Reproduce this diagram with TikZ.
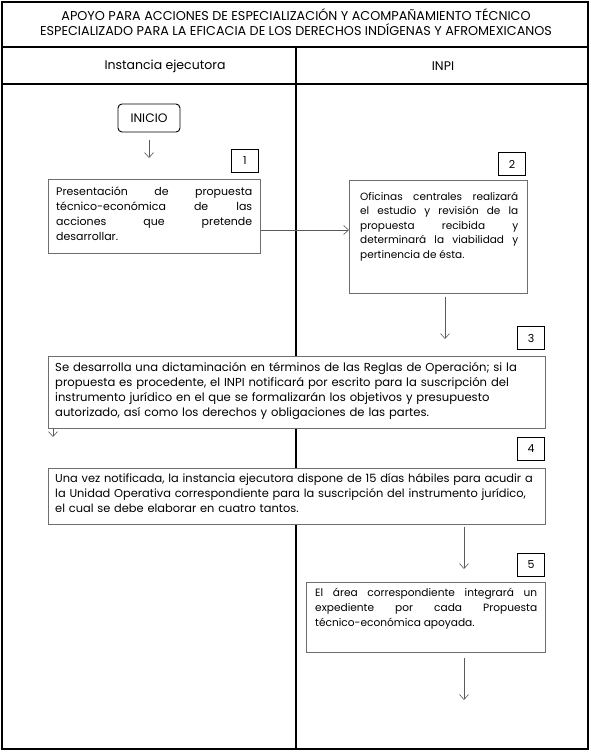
\documentclass[tikz,border=0pt]{standalone}
\usepackage{fontspec}
\setmainfont{Poppins}
\usetikzlibrary{arrows.meta}
\definecolor{boxgray}{RGB}{110,110,110}
\definecolor{arrgray}{RGB}{90,90,90}
\tikzset{
  frame/.style={draw=black, line width=1.1pt},
  procbox/.style={draw=boxgray, fill=white, line width=0.7pt, minimum width=#1, inner sep=0pt, anchor=north west},
  numbox/.style={draw=black, fill=white, line width=0.9pt, minimum width=27pt, minimum height=23pt, inner sep=0pt, font=\fontsize{11}{13}\selectfont},
  txt/.style={inner sep=0pt, anchor=north west},
  flow/.style={draw=arrgray, line width=0.6pt, -{Straight Barb[length=5pt,width=9pt]}},
  startbox/.style={draw=black, line width=0.9pt, rounded corners=4pt, minimum width=62pt, minimum height=28pt, inner sep=0pt, font=\fontsize{12.3}{14}\selectfont},
}
\begin{document}
\begin{tikzpicture}[x=1pt,y=-1pt]
\useasboundingbox (0,0) rectangle (591,752);
% frame
\draw[frame] (2,2) rectangle (588,749);
\draw[frame] (2,47) -- (588,47);
\draw[frame] (2,84) -- (588,84);
\draw[frame] (296,47) -- (296,749);
% titles
\node[inner sep=0pt, font=\fontsize{12.8}{15}\selectfont, align=center] (title) at (296,22)
  {APOYO PARA ACCIONES DE ESPECIALIZACIÓN Y ACOMPAÑAMIENTO TÉCNICO\\ESPECIALIZADO PARA LA EFICACIA DE LOS DERECHOS INDÍGENAS Y AFROMEXICANOS};
\node[inner sep=0pt, font=\fontsize{12.5}{15}\selectfont] (h1) at (165,66) {Instancia ejecutora};
\node[inner sep=0pt, font=\fontsize{12.5}{15}\selectfont] (h2) at (443,66) {INPI};
% start
\node[startbox] (ini) at (149,118) {INICIO};
% boxes
\node[procbox=212pt, minimum height=74pt] (b1) at (48,179) {};
\node[txt, text width=196pt, align=justify, font=\fontsize{11}{15}\selectfont] (t1) at ([xshift=8pt,yshift=-8pt]b1.north west)
  {Presentación de propuesta\linebreak técnico-económica de las\linebreak acciones que pretende\linebreak desarrollar.};
\node[numbox] (n1) at (245,161) {1};

\node[procbox=178pt, minimum height=113pt] (b2) at (349,180) {};
\node[txt, text width=158pt, align=justify, font=\fontsize{10.5}{14.5}\selectfont] (t2) at ([xshift=11pt,yshift=-12pt]b2.north west)
  {Oficinas centrales realizará\linebreak el estudio y revisión de la\linebreak propuesta recibida y\linebreak determinará la viabilidad y\linebreak pertinencia de ésta.};
\node[numbox] (n2) at (512,164) {2};

\node[procbox=497pt, minimum height=72pt] (b3) at (48,356) {};
\node[txt, text width=485pt, align=left, font=\fontsize{11.6}{15}\selectfont] (t3) at ([xshift=7pt,yshift=-6pt]b3.north west)
  {Se desarrolla una dictaminación en términos de las Reglas de Operación; si la\\propuesta es procedente, el INPI notificará por escrito para la suscripción del\\instrumento jurídico en el que se formalizarán los objetivos y presupuesto\\autorizado, así como los derechos y obligaciones de las partes.};
\node[numbox] (n3) at (531,338) {3};

\node[procbox=497pt, minimum height=56pt] (b4) at (48,468) {};
\node[txt, text width=485pt, align=left, font=\fontsize{11.4}{15}\selectfont] (t4) at ([xshift=7pt,yshift=-5pt]b4.north west)
  {Una vez notificada, la instancia ejecutora dispone de 15 días hábiles para acudir a\\la Unidad Operativa correspondiente para la suscripción del instrumento jurídico,\\el cual se debe elaborar en cuatro tantos.};
\node[numbox] (n4) at (531,449) {4};

\node[procbox=239pt, minimum height=70pt] (b5) at (306,582) {};
\node[txt, text width=222pt, align=justify, font=\fontsize{10.6}{15}\selectfont] (t5) at ([xshift=9pt,yshift=-6pt]b5.north west)
  {El área correspondiente integrará un\linebreak expediente por cada Propuesta\linebreak técnico-económica apoyada.};
\node[numbox] (n5) at (531,565) {5};

% connectors
\coordinate (a1end) at (149,158);
\coordinate (a3end) at (53,437);
\coordinate (a5end) at (464,700);
\draw[flow] ([yshift=-8pt]ini.south) -- (a1end);
\draw[flow] (b1.east |- 0,230) -- (b2.west |- 0,230);
\draw[flow] ([yshift=-3pt]b2.south -| 445,0) -- (445,339);
\draw[flow] (53,428) -- (a3end);
\draw[flow] ([yshift=-2pt]b4.south -| 464,0) -- (464,569);
\draw[flow] ([yshift=-5pt]b5.south -| 464,0) -- (a5end);
\end{tikzpicture}
\end{document}
